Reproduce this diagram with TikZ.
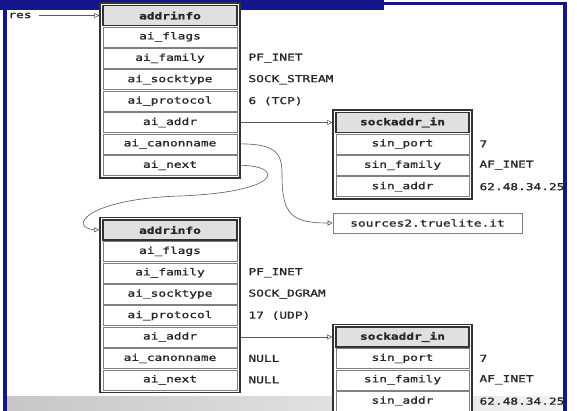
\documentclass[tikz,border=0pt]{standalone}
\usepackage{fontspec}
\newfontfamily\boxfont[FakeStretch=1.35,FakeBold=1.2]{DejaVu Sans Mono}
\usetikzlibrary{arrows.meta,positioning}
\definecolor{slideblue}{RGB}{22,22,140}
\tikzset{
  frame/.style={draw=black!80, line width=1.3pt, fill=white, inner sep=0pt},
  cell/.style={draw=black!50, line width=0.6pt, fill=white, inner sep=0pt,
    minimum height=20pt, text=black!85, font=\boxfont\fontsize{9.5}{10}\selectfont},
  headcell/.style={cell, draw=black!80, line width=1.1pt, fill=black!12},
  val/.style={inner sep=0pt, text=black!85, font=\boxfont\fontsize{9.5}{10}\selectfont},
  link/.style={draw=black!65, line width=0.6pt, -{Triangle[open,length=5pt,width=5pt]}}
}
\begin{document}
\begin{tikzpicture}[x=1pt,y=-1pt]
  \useasboundingbox (0,0) rectangle (577,411);
  \fill[white] (0,0) rectangle (577,411);
  % fondo della slide
  \shade[left color=black!22, right color=black!5] (7,396) rectangle (562,411);
  \fill[slideblue] (0,0) rectangle (384,10);

  % prima addrinfo (TCP)
  \node[frame, minimum width=140pt, minimum height=175pt] (ai1) at (170,90.5) {};
  \node[headcell, minimum width=134pt] (ai1-0) at (170,15.5) {\bfseries addrinfo};
  \foreach \txt [count=\k] in {ai\_flags,ai\_family,ai\_socktype,ai\_protocol,ai\_addr,ai\_canonname,ai\_next}
    \node[cell, minimum width=134pt] (ai1-\k) at (170,15.5+21.4*\k) {\txt};
  \foreach \k/\v in {2/PF\_INET,3/SOCK\_STREAM,4/6 (TCP)}
    \node[val, right=11pt of ai1-\k.east] (v1-\k) {\v};

  % seconda addrinfo (UDP)
  \node[frame, minimum width=140pt, minimum height=175pt] (ai2) at (170,305) {};
  \node[headcell, minimum width=134pt] (ai2-0) at (170,230) {\bfseries addrinfo};
  \foreach \txt [count=\k] in {ai\_flags,ai\_family,ai\_socktype,ai\_protocol,ai\_addr,ai\_canonname,ai\_next}
    \node[cell, minimum width=134pt] (ai2-\k) at (170,230+21.4*\k) {\txt};
  \foreach \k/\v in {2/PF\_INET,3/SOCK\_DGRAM,4/17 (UDP),6/NULL,7/NULL}
    \node[val, right=11pt of ai2-\k.east] (v2-\k) {\v};

  % sockaddr_in
  \node[frame, minimum width=139pt, minimum height=89pt] (sa1) at (402.5,154.6) {};
  \node[headcell, minimum width=133pt] (sa1-0) at (402.5,122.5) {\bfseries sockaddr\_in};
  \node[frame, minimum width=139pt, minimum height=89pt] (sa2) at (402.5,369.1) {};
  \node[headcell, minimum width=133pt] (sa2-0) at (402.5,337) {\bfseries sockaddr\_in};
  \foreach \txt/\v [count=\k] in {sin\_port/7,sin\_family/AF\_INET,sin\_addr/62.48.34.25}{
    \node[cell, minimum width=133pt] (sa1-\k) at (402.5,122.5+21.4*\k) {\txt};
    \node[val, right=10pt of sa1-\k.east] (w1-\k) {\v};
    \node[cell, minimum width=133pt] (sa2-\k) at (402.5,337+21.4*\k) {\txt};
    \node[val, right=10pt of sa2-\k.east] (w2-\k) {\v};
  }

  \node[cell, minimum width=189pt] (canon) at (427.5,223) {sources2.truelite.it};

  % puntatori
  \node[val] (res) at (20,15.5) {res};
  \draw[link, shorten <=7pt] (res) -- (ai1.west |- res);
  \draw[link] (ai1.east |- ai1-5) -- (sa1.west |- ai1-5);
  \draw[link] (ai2.east |- ai2-5) -- (sa2.west |- ai2-5);
  \draw[link] (ai1.east |- ai1-6) .. controls (278,143.9) and (282,155) .. (282,175)
    .. controls (282,215) and (292,223) .. (canon.west);
  \draw[link] (ai1.east |- ai1-7) .. controls (285,166) and (282,192) .. (180,196)
    .. controls (85,199) and (68,228) .. (ai2.west |- ai2-0);

  % cornice della slide
  \fill[slideblue] (2.5,0) rectangle (6.5,411);
  \fill[slideblue] (383,2) rectangle (567,5.5);
  \fill[slideblue] (563,2) rectangle (567,411);
\end{tikzpicture}
\end{document}
